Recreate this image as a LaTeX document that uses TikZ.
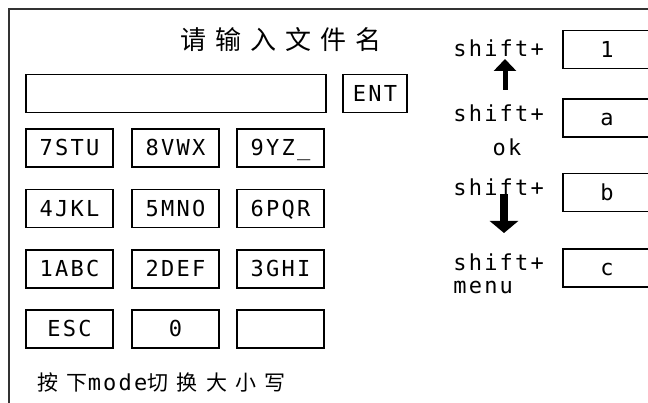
\documentclass[tikz,border=0pt]{standalone}
\usepackage{fontspec}
\usepackage{tikz}
\usetikzlibrary{arrows.meta}
\setmainfont{DejaVu Sans Mono}[LetterSpace=10]
\newfontfamily\cjktitle{Noto Sans CJK SC}[LetterSpace=35]
\newfontfamily\cjknote{Noto Sans CJK SC}[LetterSpace=40]
\tikzstyle{key box}=[
        draw = black,
        line width = 1.1pt,
        minimum width = 87pt,
        minimum height = 38pt,
        inner sep = 0pt,
        text height = 16pt,
        text depth = 0pt,
        font = \fontsize{22}{26}\selectfont
    ]
\tikzstyle{shift label}=[
    inner sep = 0pt,
    font = \fontsize{22}{26}\selectfont
]

\begin{document}
\begin{tikzpicture}[x=1pt, y=-1pt, thick]
        \useasboundingbox (0,0) rectangle (648,403);
        \draw[line width=1.6pt, black!80] (9,420) -- (9,9) -- (660,9);

        \node (title) at (281,40) {\cjktitle\fontsize{26}{30}\selectfont 请输入文件名};
        \node[key box, minimum width = 300pt] (input) at (176,93.5) {};
        \node[key box, minimum width = 64pt] (ent) at (375,93.5) {ENT};

        \node[key box] (7) at (69.5,148) {7STU};
        \node[key box] (8) at (175.5,148) {8VWX};
        \node[key box] (9) at (280.5,148) {9YZ\_};
        \node[key box] (4) at (69.5,208.5) {4JKL};
        \node[key box] (5) at (175.5,208.5) {5MNO};
        \node[key box] (6) at (280.5,208.5) {6PQR};
        \node[key box] (1) at (69.5,269) {1ABC};
        \node[key box] (2) at (175.5,269) {2DEF};
        \node[key box] (3) at (280.5,269) {3GHI};
        \node[key box] (esc) at (69.5,329) {ESC};
        \node[key box] (0) at (175.5,329) {0};
        \node[key box] (blank) at (280.5,329) {};

        \node[anchor=west, inner sep=0pt] (note) at (37,382)
            {\cjknote\fontsize{21}{24}\selectfont 按下{\rmfamily\fontsize{22}{24}\selectfont mode}切换大小写};

        \node[key box, minimum width = 88pt] (r1) at (607,49.5) {1};
        \node[key box, minimum width = 88pt] (ra) at (607,118) {a};
        \node[key box, minimum width = 88pt] (rb) at (607,192.5) {b};
        \node[key box, minimum width = 88pt] (rc) at (607,268) {c};

        \node[shift label, anchor=west] (s1) at (453,48) {shift+};
        \node[shift label, anchor=west] (s2) at (453,113) {shift+};
        \node[shift label] (ok) at (507,147) {ok};
        \node[shift label, anchor=west] (s3) at (453,187) {shift+};
        \node[shift label, anchor=west] (s4) at (453,262) {shift+};
        \node[shift label, anchor=west] (menu) at (453,287) {menu};

        \coordinate (up tail) at (505,90);
        \coordinate (up head) at (505,59);
        \coordinate (down tail) at (504,194);
        \coordinate (down head) at (504,233);
        \draw[line width=5pt, -{Triangle[width=22pt, length=12pt]}] (up tail) -- (up head);
        \draw[line width=8pt, -{Triangle[width=28pt, length=12pt]}] (down tail) -- (down head);

    \end{tikzpicture}
\end{document}
